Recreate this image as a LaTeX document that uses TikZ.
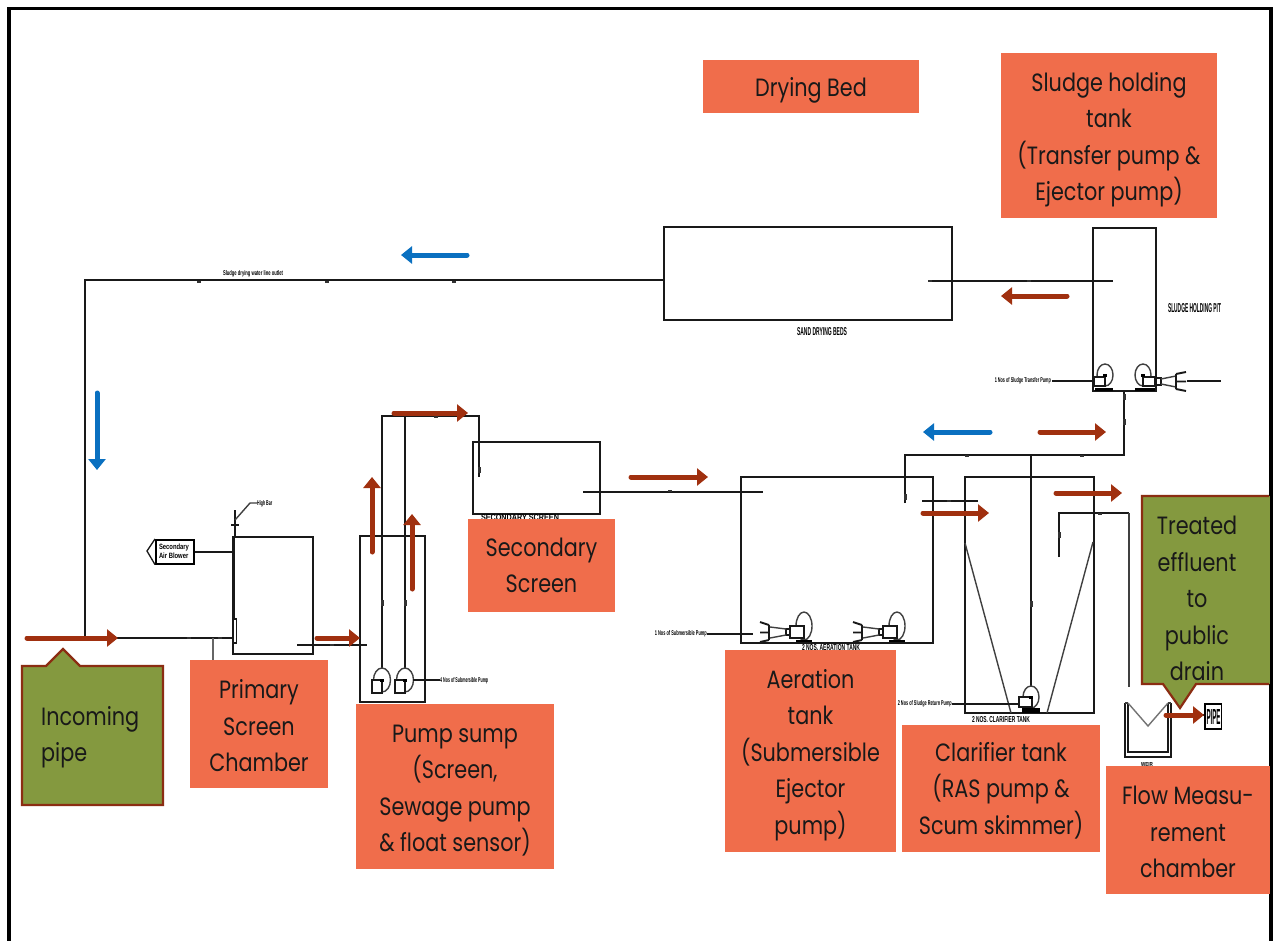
\documentclass[tikz,border=0pt]{standalone}
\usepackage{fontspec}
\usepackage{graphicx}
\usetikzlibrary{arrows.meta}
\setmainfont[FakeStretch=0.83]{Poppins}
\newfontfamily\tinyfont{Liberation Sans}
\definecolor{flowred}{HTML}{A0300F}
\definecolor{flowblue}{HTML}{0A70C0}
\definecolor{labelorange}{HTML}{F06D4B}
\definecolor{calloutgreen}{HTML}{84993F}
\definecolor{calloutedge}{HTML}{8B2D12}
\tikzset{
  pipe/.style={draw=black!90,line width=1.9pt},
  thinpipe/.style={draw=black!75,line width=1.4pt},
  tank/.style={draw=black!90,line width=2.1pt,fill=none,inner sep=0pt,outer sep=0pt,anchor=north west},
  redflow/.style={draw=flowred,line width=5pt,line cap=round,-{Triangle[length=11pt,width=17pt]}},
  blueflow/.style={draw=flowblue,line width=5pt,line cap=round,-{Triangle[length=11pt,width=17pt]}},
  orangebox/.style={fill=labelorange,inner sep=0pt,outer sep=0pt,anchor=north west},
  labeltext/.style={inner sep=0pt,align=center,font=\fontsize{25}{36.5}\selectfont,text=black!90},
  calloutshape/.style={fill=calloutgreen,draw=calloutedge,line width=2.2pt,line join=miter},
  callouttext/.style={inner sep=0pt,font=\fontsize{25}{36.5}\selectfont,text=black!90},
  tinylabel/.style={inner sep=0pt,text=black},
  valvemark/.style={fill=black!80,draw=none},
}
\newcommand{\tinytxt}[3]{\resizebox{#1pt}{#2pt}{\tinyfont\bfseries #3}}
\newcommand{\flowarrow}[4]{%
  \coordinate (#2-a) at (#3); \coordinate (#2-b) at (#4);
  \draw[#1] (#2-a) -- (#2-b);}
\newcommand{\valve}[1]{\fill[valvemark] (#1) ++(-2,-1) rectangle ++(4,2.4);}
% centre x, centre y, radius x, radius y, motor corner, motor corner
\newcommand{\pump}[6]{%
  \draw[thinpipe] (#1,#2) ellipse (#3 and #4);
  \draw[pipe,fill=white] (#5) rectangle (#6);
  \fill (#1-2,#2-1.5) rectangle (#1+2,#2+1.5);}
\newcommand{\aerator}[2]{%
  \begin{scope}[shift={(#1,#2)}]
    \draw[thinpipe] (0,0) ellipse (8 and 14);
    \draw[pipe,fill=white] (-14,0) rectangle (0,12);
    \draw[pipe] (-18,3) rectangle (-14,9);
    \draw[thinpipe] (-18,3) -- (-34,1) (-18,9) -- (-34,12);
    \draw[pipe] (-35,-1) -- (-35,14);
    \draw[pipe] (-35,-1) -- (-44,-4) (-35,6.5) -- (-44,6.5) (-35,14) -- (-44,16);
    \draw[line width=2.4pt] (-8,15) -- (8,15);
  \end{scope}}
\begin{document}
\begin{tikzpicture}[x=1pt,y=-1pt]
\useasboundingbox (0,0) rectangle (1274,940);
\fill[white] (0,0) rectangle (1274,940);
\draw[black,line width=3.8pt] (9,960) -- (9,8.5) -- (1271,8.5) -- (1271,960);

\node[tank,minimum width=288pt,minimum height=93pt] (drybed) at (664,227) {};
\node[tank,minimum width=63pt,minimum height=163pt] (pit) at (1093,228) {};
\node[tank,minimum width=80pt,minimum height=117pt] (primary) at (233,537) {};
\node[tank,minimum width=65pt,minimum height=166pt] (sump) at (360,536) {};
\node[tank,minimum width=127pt,minimum height=72pt] (secondary) at (473,442) {};
\node[tank,minimum width=192pt,minimum height=166pt] (aeration) at (741,477) {};
\node[tank,minimum width=129pt,minimum height=236pt] (clarifier) at (965,477) {};

\coordinate (corner1) at (85,280);
\coordinate (tee1) at (85,638);
\coordinate (primin) at (233,638);
\coordinate (teeb) at (213,638);
\coordinate (teec) at (213,660);
\coordinate (primout) at (297,645);
\coordinate (sumpin) at (367,645);
\coordinate (r1) at (382,668); \coordinate (r2) at (405,668);
\coordinate (rt1) at (382,416); \coordinate (rt2) at (405,416);
\coordinate (rt3) at (479,416); \coordinate (secin) at (479,477);
\coordinate (secout) at (583,492); \coordinate (aerin) at (763,492);
\coordinate (sl1) at (928,281); \coordinate (sl2) at (1113,281);
\coordinate (ret1) at (905,503); \coordinate (ret2) at (905,455);
\coordinate (ret3) at (1124,455); \coordinate (ret4) at (1124,391);
\coordinate (ras1) at (1031,455); \coordinate (ras2) at (1031,687);
\coordinate (link1) at (922,501); \coordinate (link2) at (978,501);
\coordinate (eff1) at (1059,557); \coordinate (eff2) at (1059,513);
\coordinate (eff3) at (1129,513); \coordinate (eff4) at (1129,687);

\draw[pipe] (drybed.west |- corner1) -- (corner1) -- (tee1) -- (primin);
\draw[thinpipe,black!60] (teeb) -- (teec);
\draw[pipe] (primout) -- (sumpin);
\draw[pipe] (r1) -- (rt1) -- (rt3) -- (secin);
\draw[pipe] (r2) -- (rt2);
\draw[pipe] (secout) -- (aerin);
\draw[pipe] (sl1) -- (sl2);
\draw[pipe] (ret1) -- (ret2) -- (ret3) -- (ret4);
\draw[pipe] (ras1) -- (ras2);
\draw[pipe] (link1) -- (link2);
\draw[pipe] (eff1) -- (eff2) -- (eff3);
\draw[thinpipe] (eff3) -- (eff4);
\coordinate (hl1) at (965,543); \coordinate (hl2) at (1011,713);
\coordinate (hr1) at (1093,542); \coordinate (hr2) at (1047,713);
\draw[thinpipe] (hl1) -- (hl2);
\draw[thinpipe] (hr1) -- (hr2);

\draw[pipe,line width=2.6pt] (234,537) -- (234,620);
\draw[pipe,line width=1.3pt,fill=white] (233,619) rectangle (236.5,643);
\coordinate (vent0) at (235,537); \coordinate (vent1) at (235,510);
\coordinate (vent2) at (235,520); \coordinate (vent3) at (250,503); \coordinate (vent4) at (257,503);
\draw[pipe,line width=1.3pt] (vent0) -- (vent1);
\draw[thinpipe] (vent2) -- (vent3) -- (vent4);
\draw[pipe] (231,525) -- (239,525);
\node[tinylabel,anchor=west] (ventlabel) at (257,503.5) {\tinytxt{15}{5}{High Bar}};
\node[draw=black,line width=1.6pt,inner sep=0pt,minimum width=38pt,minimum height=24pt,anchor=north west] (blowerbox) at (155,539) {};
\coordinate (blowertip) at (147,551);
\draw[pipe,line width=1.3pt] (blowerbox.north west) -- (blowertip) -- (blowerbox.south west);
\node[tinylabel,align=left] (blowerlabel) at (174,551) {\resizebox{30pt}{15pt}{\tinyfont\bfseries\shortstack[l]{Secondary\\Air Blower}}};
\draw[pipe] (blowerbox.east) -- (primary.west |- blowerbox.east);

\pump{382}{680}{8.5}{12}{372,680}{382,693}
\pump{405}{680}{8.5}{12}{395,680}{405,693}
\coordinate (sumpcable1) at (413,680); \coordinate (sumpcable2) at (440,680);
\draw[pipe] (sumpcable1) -- (sumpcable2);
\node[tinylabel,anchor=west] (sumplabel) at (440,680.5) {\tinytxt{48}{5}{4 Nos of Submersible Pump}};

\pump{1105}{375}{8}{11}{1094,377}{1105,386}
\pump{1143}{375}{8}{11}{1143,377}{1155,386}
\draw[line width=3pt] (1095,389) -- (1113,389) (1135,389) -- (1155,389);
\coordinate (pitcable) at (1052,381);
\draw[pipe] (pitcable) -- (1094,381);
\node[tinylabel,anchor=east] (pitlabel) at (1051,381) {\tinytxt{56}{5}{1 Nos of Sludge Transfer Pump}};
\draw[pipe,fill=white] (1156,378) rectangle (1161,385);
\draw[thinpipe] (1161,379) -- (1176,376) (1161,384) -- (1176,387);
\draw[pipe] (1176,374) -- (1176,389) (1176,374) -- (1186,372) (1176,381.5) -- (1186,381.5) (1176,389) -- (1186,391);
\coordinate (ej1) at (1187,381); \coordinate (ej2) at (1221,381);
\draw[pipe] (ej1) -- (ej2);

\aerator{804}{626}
\aerator{897}{626}
\coordinate (aercable1) at (707,634); \coordinate (aercable2) at (753,634);
\draw[pipe] (aercable1) -- (aercable2);
\node[tinylabel,anchor=east] (aerlabel) at (707,634) {\tinytxt{52}{5}{1 Nos of Submersible Pump}};

\pump{1031}{697}{8}{11}{1019,697}{1032,707}
\draw[line width=4.5pt] (1022,710.5) -- (1040,710.5);
\coordinate (clarcable) at (952,704);
\draw[pipe] (clarcable) -- (1019,704);
\node[tinylabel,anchor=east] (clarlabel) at (952,704) {\tinytxt{54}{5}{2 Nos of Sludge Return Pump}};

\draw[pipe] (1125,703) -- (1125,757) -- (1171,757) -- (1171,703);
\draw[pipe,line width=1.5pt] (1128,703) -- (1128,752) -- (1168,752) -- (1168,703);
\draw[thinpipe,black!55] (1128,703) -- (1148,726) -- (1168,703);
\draw[thinpipe] (1125,703) -- (1128,703) (1168,703) -- (1171,703);
\coordinate (fmout) at (1171,715);
\node[draw=black,line width=2pt,minimum width=17pt,minimum height=25pt,inner sep=0pt,anchor=north west] (outbox) at (1204,703) {\tinytxt{14}{15}{PIPE}};
\draw[pipe] (fmout) -- (outbox.west |- fmout);
\fill[white] (1221.5,700) rectangle (1235,731);

\valve{199,282}\valve{327,282}\valve{454,282}\valve{189,638}\valve{220,638}\valve{332,645}
\valve{436,417}\valve{670,491}\valve{930,281}\valve{1029,281}\valve{967,456}\valve{1082,456}
\valve{949,501}\valve{1100,514}
\fill[valvemark] (381,600) rectangle (383.5,606);
\fill[valvemark] (404,600) rectangle (406.5,606);
\fill[valvemark] (478,467) rectangle (480.5,473);
\fill[valvemark] (1123,394) rectangle (1125.5,400);
\fill[valvemark] (1123,419) rectangle (1125.5,425);
\fill[valvemark] (904,494) rectangle (906.5,500);
\fill[valvemark] (1058,532) rectangle (1060.5,538);
\fill[valvemark] (1030,601) rectangle (1032.5,607);

\node[tinylabel] (linelabel) at (253,273.5) {\tinytxt{60}{5}{Sludge drying water line outlet}};
\node[tinylabel] (drylabel) at (822,332) {\tinytxt{50}{8}{SAND DRYING BEDS}};
\node[tinylabel] (holdlabel) at (1194.5,308.5) {\tinytxt{53}{9}{SLUDGE HOLDING PIT}};
\node[tinylabel] (clartank) at (1001,720) {\tinytxt{58}{6}{2 NOS. CLARIFIER TANK}};
\node[tinylabel] (aertank) at (831,648) {\tinytxt{58}{6}{2 NOS. AERATION TANK}};
\node[tinylabel] (sectank) at (520,518) {\tinytxt{78}{6}{SECONDARY SCREEN}};
\node[tinylabel] (weirlabel) at (1147,764) {\tinytxt{12}{4}{WEIR}};

\node[orangebox,minimum width=216pt,minimum height=53pt] (lbldry) at (703,60) {};
\node[labeltext] (txtdry) at ([yshift=-4pt]lbldry.center) {Drying Bed};
\node[orangebox,minimum width=216pt,minimum height=165pt] (lblhold) at (1001,53) {};
\node[labeltext] (txthold) at ([yshift=-4pt]lblhold.center) {Sludge holding\\tank\\(Transfer pump \&\\Ejector pump)};
\node[orangebox,minimum width=138pt,minimum height=128pt] (lblprim) at (190,660) {};
\node[labeltext] (txtprim) at ([yshift=-2pt]lblprim.center) {Primary\\Screen\\Chamber};
\node[orangebox,minimum width=198pt,minimum height=165pt] (lblsump) at (356,704) {};
\node[labeltext] (txtsump) at ([yshift=-4pt]lblsump.center) {Pump sump\\(Screen,\\Sewage pump\\\& float sensor)};
\node[orangebox,minimum width=147pt,minimum height=93pt] (lblsec) at (468,519) {};
\node[labeltext] (txtsec) at (lblsec.center) {Secondary\\Screen};
\node[orangebox,minimum width=171pt,minimum height=202pt] (lblaer) at (725,650) {};
\node[labeltext] (txtaer) at ([yshift=-4pt]lblaer.center) {Aeration\\tank\\(Submersible\\Ejector\\pump)};
\node[orangebox,minimum width=198pt,minimum height=127pt] (lblclar) at (902,725) {};
\node[labeltext] (txtclar) at ([yshift=-2pt]lblclar.center) {Clarifier tank\\(RAS pump \&\\Scum skimmer)};
\node[orangebox,minimum width=164pt,minimum height=128pt] (lblflow) at (1106,766) {};
\node[labeltext] (txtflow) at ([yshift=-2pt]lblflow.center) {Flow Measu-\\rement\\chamber};

\draw[calloutshape] (22,666) -- (46,666) -- (63,649) -- (80,666) -- (163,666) -- (163,805) -- (22,805) -- cycle;
\node[callouttext,align=left,anchor=north west] (lblin) at (41,706) {Incoming\\pipe};
\fill[calloutgreen] (1142,496) rectangle (1270,684);
\draw[calloutshape] (1269,496) -- (1142,496) -- (1142,684) -- (1163,684) -- (1180,708) -- (1196,684) -- (1269,684);
\node[callouttext,align=center,anchor=north] (lbleff) at (1197,516) {Treated\\effluent\\to\\public\\drain};

\flowarrow{redflow}{a1}{27,638}{118,638}
\flowarrow{redflow}{a2}{317,638}{360,638}
\flowarrow{redflow}{a3}{372,552}{372,477}
\flowarrow{redflow}{a4}{412,589}{412,514}
\flowarrow{redflow}{a5}{394,413}{468,413}
\flowarrow{redflow}{a6}{631,477}{708,477}
\flowarrow{redflow}{a7}{923,513}{989,513}
\flowarrow{redflow}{a8}{1056,493}{1122,493}
\flowarrow{redflow}{a9}{1040,432}{1106,432}
\flowarrow{redflow}{a10}{1067,296}{1001,296}
\flowarrow{redflow}{a11}{1166,715}{1204,715}
\flowarrow{blueflow}{b1}{467,255}{401,255}
\flowarrow{blueflow}{b2}{990,432}{923,432}
\flowarrow{blueflow}{b3}{97,393}{97,470}
\end{tikzpicture}
\end{document}
